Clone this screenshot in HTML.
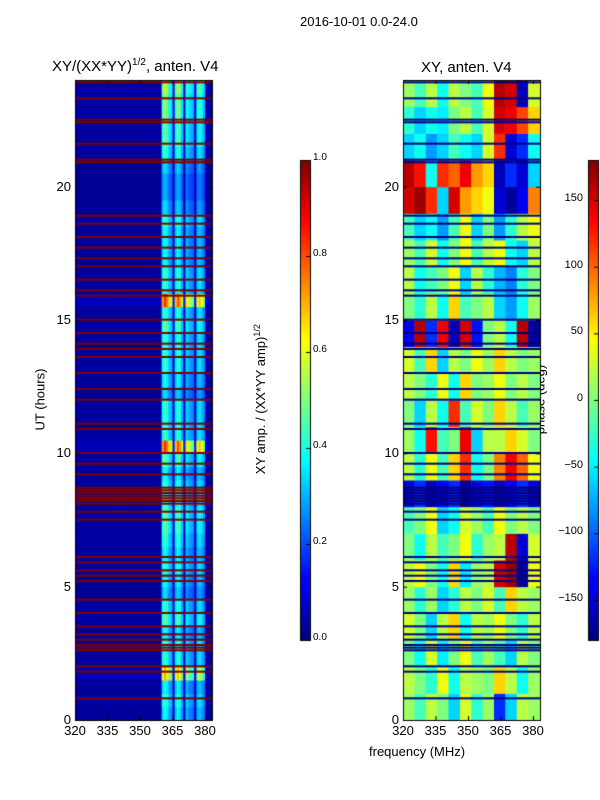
<!DOCTYPE html>
<html><head><meta charset="utf-8"><style>
body{margin:0;background:#fff;font-family:"Liberation Sans",sans-serif;}
#wrap{position:relative;width:600px;height:800px;overflow:hidden;}
.t{position:absolute;font-size:13px;color:#000;white-space:nowrap;}
canvas{position:absolute;}
</style></head><body>
<div id="wrap">
<div class="t" style="left:300px;top:14px;">2016-10-01 0.0-24.0</div>
<div class="t" style="left:52px;top:57px;font-size:15px;">XY/(XX*YY)<sup style="font-size:10px">1/2</sup>, anten. V4</div>
<div class="t" style="left:421px;top:59px;font-size:15px;">XY, anten. V4</div>
<div class="t" style="left:0px;top:392px;width:80px;text-align:center;transform:rotate(-90deg);">UT (hours)</div>
<div class="t" style="left:369px;top:744px;">frequency (MHz)</div>
<div class="t" style="left:160px;top:391px;width:200px;text-align:center;transform:rotate(-90deg);">XY amp. / (XX*YY amp)<sup style="font-size:9px">1/2</sup></div>
<div class="t" style="left:500px;top:392px;width:80px;text-align:center;transform:rotate(-90deg);">phase (deg)</div>
<canvas id="c" width="600" height="800" style="left:0;top:0"></canvas>
<div id="ticks"></div>
</div>
<script>
// ---- data ----
const yTicks=[0,5,10,15,20];
const xTicks=[320,335,350,365,380];
const ampTicks=[0.0,0.2,0.4,0.6,0.8,1.0];
const phaseTicks=[-150,-100,-50,0,50,100,150];
// left: amplitude per 1 MHz bin (320..383)
const colAmp=[.03,.03,.03,.03,.03,.03,.03,.03,.03,.03,.03,.03,.03,.03,.03,.03,.03,.03,.03,.03,
.03,.03,.03,.03,.03,.03,.03,.03,.03,.03,.03,.03,.03,.03,.03,.03,.03,.03,.03,.04,
.38,.44,.4,.34,.3,.08,.36,.42,.38,.3,.08,.34,.3,.28,.26,.08,.32,.36,.32,.26,.05,.03,.03,.03];
// left: row modulation per 0.5 h (0..24)
const rowAmp=[.9,1,.9,1.6,1,1,.9,1.1,1,.8,.9,1,.9,1,1.1,1.1,1,1,.9,1.1,1.9,1,1,1,
.8,.9,1,1,1,1.1,1,1.9,1,1,.9,.9,.9,1,.8,.7,.7,.8,1,1.1,1.1,1.2,1.2,1.3];
// flagged (red / dark) times in hours
const flagRows=[0.8,1.8,2.0,2.6,2.7,2.8,3.0,3.2,3.5,4.0,4.5,5.2,5.4,5.6,5.9,6.1,7.5,7.8,8.1,8.2,8.3,8.4,8.5,8.6,8.7,9.2,9.6,10.0,10.9,11.1,12.0,12.4,13.0,13.6,13.9,14.1,14.5,15.0,15.9,16.1,16.5,17.0,17.3,17.7,18.1,18.6,18.9,20.9,21.0,21.6,22.4,22.5,23.3,23.9];
// right: phase (deg) coarse matrix, 24 rows (hour 0..23) x 12 cols (320..383)
const phase=[
[10,-20,20,0,-60,30,-30,10,-120,-60,20,10],
[20,0,-30,40,-40,20,10,0,60,20,-40,10],
[0,-40,30,-50,0,40,-20,10,-20,-60,20,0],
[30,0,-60,20,60,-40,20,10,40,0,-30,20],
[10,-30,10,-60,-30,20,0,30,-20,60,20,10],
[20,40,0,-40,60,-50,10,20,150,170,-170,40],
[0,-40,20,-20,0,40,-30,10,20,160,-150,30],
[-20,0,40,-60,-40,30,10,-20,40,0,20,0],
[-150,-120,-160,-140,-120,-170,-150,-130,-160,-140,-120,-150],
[20,-30,40,-20,60,120,-40,0,90,140,100,40],
[10,-40,130,-20,0,140,-60,20,20,60,30,0],
[0,-60,20,-40,120,-20,30,0,60,20,-20,10],
[20,0,-30,40,-40,60,0,10,40,0,20,0],
[30,-20,60,-60,20,0,40,10,60,20,0,10],
[-140,160,-120,140,-160,150,-130,0,20,-40,160,-170],
[0,-30,20,-40,60,-20,0,20,-60,-80,-40,10],
[20,-40,-20,0,40,-60,20,-30,-70,-90,-30,0],
[10,-20,30,-40,0,40,-20,20,40,-40,-60,20],
[-20,-60,-40,-80,-20,40,-60,0,-80,-30,20,40],
[150,170,120,-60,150,80,60,40,-150,-170,-140,90],
[160,130,-40,120,100,140,80,60,-160,-120,-150,-60],
[-60,-40,-80,-60,-20,-40,-60,30,120,-150,-120,-40],
[-30,-60,-40,-50,0,20,-20,30,150,140,110,60],
[10,-20,20,-40,20,0,-20,40,160,150,-160,30]];
// ---- helpers ----
function jet(v){v=Math.max(0,Math.min(1,v));
 const r=Math.max(0,Math.min(1,Math.min(4*v-1.5,-4*v+4.5)));
 const g=Math.max(0,Math.min(1,Math.min(4*v-0.5,-4*v+3.5)));
 const b=Math.max(0,Math.min(1,Math.min(4*v+0.5,-4*v+2.5)));
 return `rgb(${r*255|0},${g*255|0},${b*255|0})`;}
const Y0=720,Y1=80;
function yS(h){return Y0-(h/24)*(Y0-Y1);}
function xL(f){return 75+(f-320)*(205-75)/60;}
function xR(f){return 403+(f-320)*(205-75)/60;}
const cv=document.getElementById('c');const ctx=cv.getContext('2d');
// left heatmap
ctx.fillStyle=jet(0.03);ctx.fillRect(75,80,137,640);
for(let r=0;r<rowAmp.length;r++){for(let c=0;c<colAmp.length;c++){
 const f=320+c;ctx.fillStyle=jet(colAmp[c]*rowAmp[r]);
 const x0=xL(f),x1=Math.min(212,xL(f+1));if(x0>=212)continue;
 ctx.fillRect(x0,yS((r+1)/2),x1-x0+0.5,yS(r/2)-yS((r+1)/2)+0.5);}}
flagRows.forEach(h=>{ctx.fillStyle=jet(1);ctx.fillRect(75,yS(h+0.05),137,2);});
// right heatmap
for(let r=0;r<phase.length;r++){for(let c=0;c<phase[r].length;c++){
 const f0=320+c*5.25,f1=f0+5.25;const x0=xR(f0),x1=Math.min(540,xR(f1));
 ctx.fillStyle=jet((phase[r][c]+180)/360);
 ctx.fillRect(x0,yS(r+1),x1-x0+0.5,yS(r)-yS(r+1)+0.5);}}
flagRows.forEach(h=>{ctx.fillStyle=jet(0);ctx.fillRect(403,yS(h+0.05),137,2);});
// frames
ctx.strokeStyle='#000';ctx.lineWidth=1;
ctx.strokeRect(75.5,80.5,137,640);ctx.strokeRect(403.5,80.5,137,640);
// colorbars
function cbar(x){for(let i=0;i<480;i++){ctx.fillStyle=jet(1-i/480);ctx.fillRect(x,160+i,10,1.2);}ctx.strokeRect(x+0.5,160.5,10,480);}
cbar(300);cbar(588);
const tk=document.getElementById('ticks');
function lab(txt,x,y,align,name){const d=document.createElement('div');d.className='t';d.textContent=txt;
 d.style.top=(y-8)+'px';
 if(align==='r'){d.style.left=(x-60)+'px';d.style.width='60px';d.style.textAlign='right';}
 else if(align==='c'){d.style.left=(x-30)+'px';d.style.width='60px';d.style.textAlign='center';}
 else{d.style.left=x+'px';}
 
 
 tk.appendChild(d);return d;}
yTicks.forEach(v=>{const y=yS(v);
 [75,403].forEach(x0=>{ctx.beginPath();ctx.moveTo(x0,y+.5);ctx.lineTo(x0+4,y+.5);ctx.moveTo(x0+137,y+.5);ctx.lineTo(x0+133,y+.5);ctx.stroke();
 lab(String(v),x0-4,y,'r','y-tick-label');});});
xTicks.forEach(v=>{[xL(v),xR(v)].forEach(x=>{ctx.beginPath();ctx.moveTo(x+.5,720);ctx.lineTo(x+.5,716);ctx.moveTo(x+.5,80);ctx.lineTo(x+.5,84);ctx.stroke();
 lab(String(v),x,731,'c','x-tick-label');});});
ampTicks.forEach(v=>{const y=640-v*480;ctx.beginPath();ctx.moveTo(306,y+.5);ctx.lineTo(310,y+.5);ctx.stroke();
 const d=lab(v.toFixed(1),313,y,'l','amp-colorbar-tick');d.style.fontSize='10px';});
phaseTicks.forEach(v=>{const y=400-v*480/360;ctx.beginPath();ctx.moveTo(594,y+.5);ctx.lineTo(598,y+.5);ctx.stroke();
 const d=lab(String(v).replace('-','\u2212'),545,y,'l','phase-colorbar-tick');d.style.fontSize='11px';d.style.width='38px';d.style.textAlign='right';});
</script>
</body></html>
